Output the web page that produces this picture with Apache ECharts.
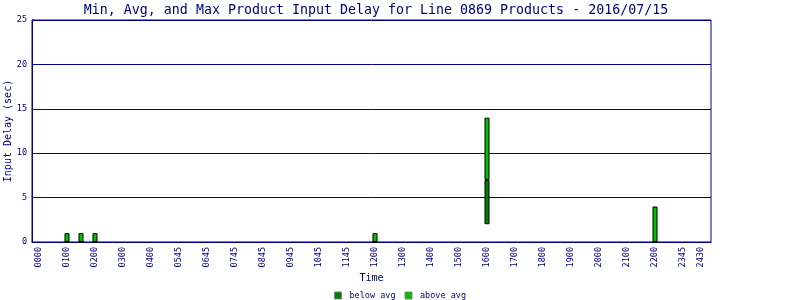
<!DOCTYPE html>
<html><head><meta charset="utf-8">
<script src="https://cdn.jsdelivr.net/npm/echarts@6/dist/echarts.min.js"></script>
<style>html,body{margin:0;padding:0;background:#fff}#c{width:800px;height:300px}</style>
</head><body><div id="c"></div>
<script>
// x tick labels and the slot where each one sits
const tickLabels = ['0000','0100','0200','0300','0400','0545','0645','0745','0845','0945','1045','1145','1200','1300','1400','1500','1600','1700','1800','1900','2000','2100','2200','2345','2430'];
const tickSlots  = [0,2,4,6,8,10,12,14,16,18,20,22,24,26,28,30,32,34,36,38,40,42,44,46,47.3];
// bars: slot, min, avg, max (seconds)
const barSlots = [2,3,4,24,32,44];
const minVals  = [0,0,0,0,2,0];
const avgVals  = [0,0,0,0,7,0];
const maxVals  = [1,1,1,1,14,4];

const NAVY = '#000080';
const FONT = 'DejaVu Sans Mono';
const labelMap = {};
tickSlots.forEach((s,i)=>{ labelMap[s] = tickLabels[i]; });

// [value, slot] so that the stacked dimension is the value
const baseData  = barSlots.map((s,i)=>[minVals[i], s]);
const belowData = barSlots.map((s,i)=>[avgVals[i]-minVals[i], s]);
const aboveData = barSlots.map((s,i)=>[maxVals[i]-avgVals[i], s]);

const chart = echarts.init(document.getElementById('c'), null, {renderer:'canvas'});
chart.setOption({
  animation:false,
  backgroundColor:'#ffffff',
  title:{
    text:'Min, Avg, and Max Product Input Delay for Line 0869 Products - 2016/07/15',
    left:371, top:-1, textAlign:'center',
    textStyle:{fontFamily:FONT, fontSize:13.3, fontWeight:'normal', color:NAVY}
  },
  legend:{
    top:291, left:'center', padding:0,
    itemWidth:7, itemHeight:7, itemGap:9,
    icon:'rect',
    data:[{name:'below avg', itemStyle:{borderColor:'#808080', borderWidth:1}},
          {name:'above avg', itemStyle:{borderColor:'#808080', borderWidth:1}}],
    textStyle:{fontFamily:FONT, fontSize:8.5, color:NAVY, padding:[0,0,0,3]}
  },
  grid:{left:32, right:89, top:20, bottom:58, show:true, borderColor:NAVY, borderWidth:1,
        containLabel:false, outerBoundsMode:'none'},
  xAxis:{
    type:'value', min:-0.5, max:48,
    name:'Time', nameLocation:'middle', nameGap:31, nameMoveOverlap:false,
    nameTextStyle:{fontFamily:FONT, fontSize:10, color:NAVY},
    axisLine:{show:true, onZero:false, lineStyle:{color:NAVY, width:1}},
    axisTick:{show:false},
    splitLine:{show:false},
    axisLabel:{
      customValues: tickSlots,
      rotate:90, margin:5,
      fontFamily:FONT, fontSize:8.5, color:NAVY,
      formatter:(v)=> labelMap[v] !== undefined ? labelMap[v] : ''
    }
  },
  yAxis:{
    type:'value', min:0, max:25, interval:5,
    name:'Input Delay (sec)', nameLocation:'middle', nameGap:19, nameMoveOverlap:false,
    nameTextStyle:{fontFamily:FONT, fontSize:10, color:NAVY},
    axisLine:{show:true, onZero:false, lineStyle:{color:NAVY, width:1}},
    axisTick:{show:false},
    splitLine:{show:true, lineStyle:{color:NAVY, width:1}},
    axisLabel:{fontFamily:FONT, fontSize:8.5, color:NAVY, margin:5}
  },
  series:[
    {name:'base', type:'bar', stack:'d', barWidth:5, data:baseData, encode:{x:1, y:0},
     itemStyle:{color:'transparent'}, silent:true, legendHoverLink:false},
    {name:'below avg', type:'bar', stack:'d', barWidth:5, data:belowData, encode:{x:1, y:0},
     itemStyle:{color:'#008000', borderColor:'#000000', borderWidth:1}},
    {name:'above avg', type:'bar', stack:'d', barWidth:5, data:aboveData, encode:{x:1, y:0},
     itemStyle:{color:'#00c000', borderColor:'#000000', borderWidth:1}}
  ]
});
</script>
</body></html>
